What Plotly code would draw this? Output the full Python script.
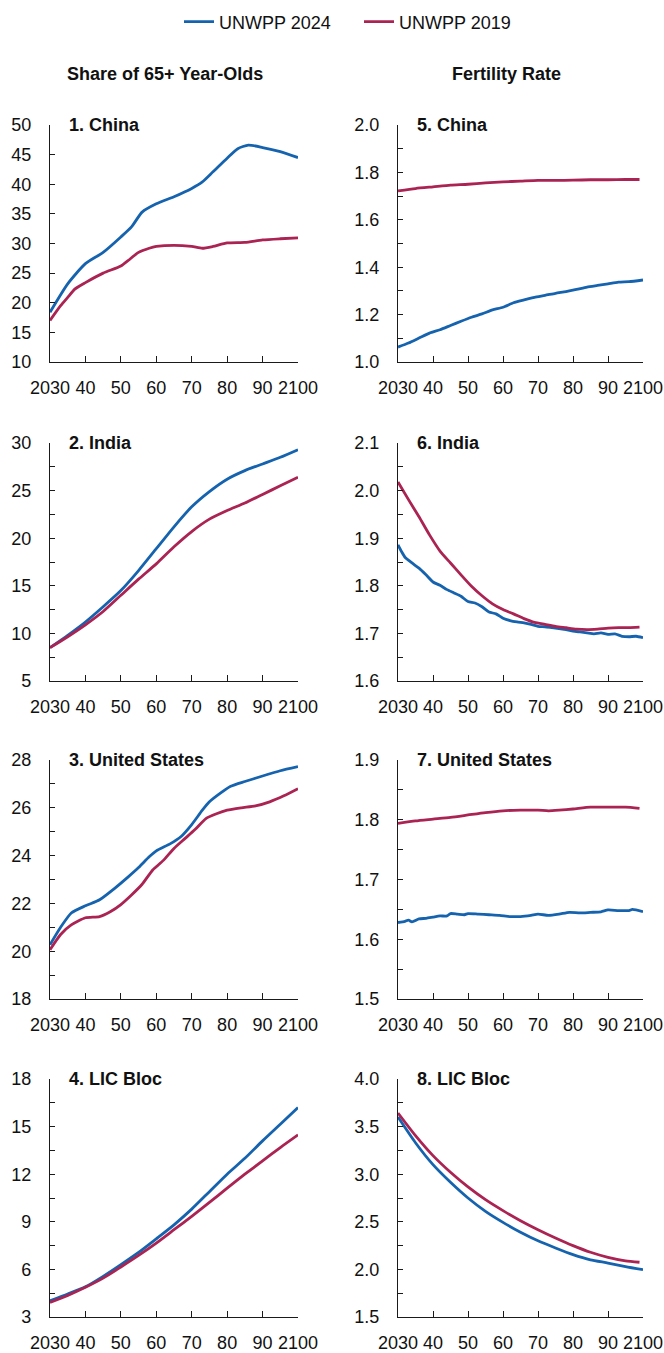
import plotly.graph_objects as go

# ---------------- data ----------------
# Share of population aged 65+ (percent)
china_share_years_24 = [2030, 2035, 2040, 2045, 2050, 2053, 2056, 2060, 2065, 2070, 2073, 2076, 2080, 2083, 2086, 2090, 2095, 2100]
china_share_24 = [18.4, 23.2, 26.6, 28.5, 31.1, 32.8, 35.3, 36.7, 37.9, 39.3, 40.4, 42.1, 44.4, 46.0, 46.6, 46.2, 45.5, 44.5]
china_share_years_19 = [2030, 2033, 2035, 2037, 2040, 2045, 2050, 2052, 2055, 2058, 2060, 2065, 2070, 2073, 2076, 2080, 2085, 2090, 2095, 2100]
china_share_19 = [17.0, 19.5, 20.9, 22.3, 23.4, 25.0, 26.2, 27.1, 28.5, 29.2, 29.5, 29.7, 29.5, 29.2, 29.5, 30.1, 30.2, 30.6, 30.8, 30.96]

india_share_years = [2030, 2035, 2040, 2045, 2050, 2055, 2060, 2065, 2070, 2075, 2080, 2085, 2090, 2095, 2100]
india_share_24 = [8.5, 9.8, 11.2, 12.8, 14.5, 16.6, 18.9, 21.2, 23.3, 24.9, 26.2, 27.1, 27.8, 28.5, 29.3]
india_share_19 = [8.5, 9.65, 10.9, 12.3, 14.0, 15.7, 17.3, 19.1, 20.7, 22.0, 22.9, 23.7, 24.6, 25.5, 26.4]

us_share_years_24 = [2030, 2033, 2036, 2040, 2044, 2048, 2052, 2055, 2058, 2060, 2064, 2067, 2070, 2073, 2075, 2078, 2081, 2085, 2090, 2095, 2100]
us_share_24 = [20.27, 21.0, 21.6, 21.9, 22.15, 22.6, 23.1, 23.5, 23.95, 24.2, 24.5, 24.8, 25.3, 25.9, 26.25, 26.6, 26.9, 27.1, 27.33, 27.55, 27.72]
us_share_years_19 = [2030, 2033, 2036, 2040, 2044, 2047, 2050, 2053, 2056, 2059, 2062, 2065, 2068, 2071, 2074, 2077, 2080, 2084, 2088, 2092, 2096, 2100]
us_share_19 = [20.06, 20.7, 21.1, 21.4, 21.45, 21.65, 21.95, 22.35, 22.8, 23.4, 23.8, 24.3, 24.7, 25.1, 25.55, 25.75, 25.9, 26.0, 26.08, 26.25, 26.5, 26.8]

lic_share_years = [2030, 2035, 2040, 2045, 2050, 2055, 2060, 2065, 2070, 2075, 2080, 2085, 2090, 2095, 2100]
lic_share_24 = [4.03, 4.45, 4.9, 5.56, 6.3, 7.07, 7.93, 8.81, 9.8, 10.9, 12.0, 13.0, 14.1, 15.15, 16.2]
lic_share_19 = [3.92, 4.36, 4.87, 5.45, 6.15, 6.88, 7.66, 8.5, 9.34, 10.22, 11.12, 12.0, 12.84, 13.68, 14.48]

# Total fertility rate (births per woman)
china_tfr_years_24 = [2030, 2033, 2036, 2039, 2042, 2045, 2048, 2051, 2054, 2057, 2060, 2063, 2066, 2069, 2072, 2075, 2078, 2081, 2084, 2087, 2090, 2093, 2096, 2100]
china_tfr_24 = [1.063, 1.080, 1.101, 1.122, 1.136, 1.154, 1.172, 1.189, 1.203, 1.220, 1.231, 1.250, 1.262, 1.273, 1.281, 1.290, 1.297, 1.306, 1.316, 1.323, 1.330, 1.337, 1.339, 1.346]
china_tfr_years_19 = [2030, 2035, 2040, 2045, 2050, 2055, 2060, 2065, 2070, 2075, 2080, 2085, 2090, 2095, 2099]
china_tfr_19 = [1.722, 1.732, 1.739, 1.746, 1.750, 1.756, 1.760, 1.763, 1.766, 1.766, 1.767, 1.769, 1.769, 1.770, 1.770]

india_tfr_years_24 = [2030, 2031, 2032, 2034, 2036, 2038, 2040, 2042, 2044, 2046, 2048, 2050, 2052, 2054, 2056, 2058, 2060, 2062, 2064, 2066, 2068, 2070, 2072, 2074, 2076, 2078, 2080, 2082, 2084, 2086, 2088, 2090, 2092, 2094, 2096, 2098, 2100]
india_tfr_24 = [1.886, 1.872, 1.860, 1.848, 1.837, 1.823, 1.808, 1.801, 1.792, 1.785, 1.778, 1.767, 1.764, 1.756, 1.745, 1.741, 1.732, 1.727, 1.724, 1.722, 1.719, 1.715, 1.714, 1.712, 1.710, 1.708, 1.705, 1.703, 1.701, 1.699, 1.701, 1.698, 1.699, 1.694, 1.693, 1.694, 1.691]
india_tfr_years_19 = [2030, 2033, 2036, 2039, 2042, 2045, 2048, 2051, 2054, 2057, 2060, 2063, 2066, 2069, 2072, 2075, 2078, 2081, 2084, 2087, 2090, 2093, 2096, 2099]
india_tfr_19 = [2.018, 1.981, 1.945, 1.907, 1.873, 1.848, 1.823, 1.799, 1.779, 1.762, 1.750, 1.741, 1.731, 1.723, 1.719, 1.715, 1.712, 1.709, 1.708, 1.709, 1.711, 1.712, 1.712, 1.713]

us_tfr_years_24 = [2030, 2032, 2033, 2034, 2036, 2038, 2040, 2042, 2044, 2045, 2047, 2049, 2050, 2053, 2056, 2059, 2062, 2065, 2068, 2070, 2073, 2076, 2079, 2082, 2085, 2088, 2090, 2093, 2096, 2097, 2100]
us_tfr_24 = [1.628, 1.630, 1.632, 1.629, 1.634, 1.635, 1.637, 1.639, 1.639, 1.643, 1.642, 1.641, 1.643, 1.642, 1.641, 1.640, 1.638, 1.638, 1.640, 1.642, 1.640, 1.642, 1.645, 1.644, 1.645, 1.646, 1.649, 1.648, 1.648, 1.650, 1.646]
us_tfr_years_19 = [2030, 2035, 2040, 2045, 2050, 2055, 2060, 2065, 2070, 2073, 2076, 2080, 2085, 2090, 2095, 2099]
us_tfr_19 = [1.794, 1.798, 1.801, 1.804, 1.808, 1.812, 1.815, 1.816, 1.816, 1.815, 1.816, 1.818, 1.821, 1.821, 1.821, 1.819]

lic_tfr_years_24 = [2030, 2035, 2040, 2045, 2050, 2055, 2060, 2065, 2070, 2075, 2080, 2085, 2090, 2095, 2100]
lic_tfr_24 = [3.60, 3.33, 3.10, 2.915, 2.75, 2.61, 2.494, 2.39, 2.30, 2.225, 2.155, 2.10, 2.067, 2.03, 1.997]
lic_tfr_years_19 = [2030, 2035, 2040, 2045, 2050, 2055, 2060, 2065, 2070, 2075, 2080, 2085, 2090, 2095, 2099]
lic_tfr_19 = [3.643, 3.405, 3.195, 3.02, 2.866, 2.732, 2.617, 2.512, 2.417, 2.33, 2.25, 2.18, 2.127, 2.09, 2.075]

x_tick_vals = [2030, 2040, 2050, 2060, 2070, 2080, 2090, 2100]
x_tick_text = ["2030", "40", "50", "60", "70", "80", "90", "2100"]

series_names = ["UNWPP 2024", "UNWPP 2019"]
column_titles = ["Share of 65+ Year-Olds", "Fertility Rate"]

# panel title, (x24, y24), (x19, y19), y-range, major dtick, minor dtick
panels = [
    ("1. China", (china_share_years_24, china_share_24), (china_share_years_19, china_share_19), (10, 50), 5, 5),
    ("2. India", (india_share_years, india_share_24), (india_share_years, india_share_19), (5, 30), 5, 2.5),
    ("3. United States", (us_share_years_24, us_share_24), (us_share_years_19, us_share_19), (18, 28), 2, 1),
    ("4. LIC Bloc", (lic_share_years, lic_share_24), (lic_share_years, lic_share_19), (3, 18), 3, 1.5),
    ("5. China", (china_tfr_years_24, china_tfr_24), (china_tfr_years_19, china_tfr_19), (1.0, 2.0), 0.2, 0.1),
    ("6. India", (india_tfr_years_24, india_tfr_24), (india_tfr_years_19, india_tfr_19), (1.6, 2.1), 0.1, 0.05),
    ("7. United States", (us_tfr_years_24, us_tfr_24), (us_tfr_years_19, us_tfr_19), (1.5, 1.9), 0.1, 0.05),
    ("8. LIC Bloc", (lic_tfr_years_24, lic_tfr_24), (lic_tfr_years_19, lic_tfr_19), (1.5, 4.0), 0.5, 0.25),
]

# ---------------- layout geometry ----------------
W, H = 664, 1353
col_px = [(50, 298), (398, 643)]
row_px = [(125, 362), (443, 681), (760, 999), (1079, 1317)]

BLUE = "#1563AE"
RED = "#AA2352"
FONT = "Liberation Sans, Arial, sans-serif"
AXIS_COLOR = "#1a1a1a"
TEXT_COLOR = "#111111"
FS = 18

fig = go.Figure()
annotations = []

for i, (title, s24, s19, yr, dmaj, dmin) in enumerate(panels):
    col = i // 4
    row = i % 4
    n = i + 1
    xa = "x" if n == 1 else f"x{n}"
    ya = "y" if n == 1 else f"y{n}"
    for (xs, ys), name, color in ((s24, series_names[0], BLUE), (s19, series_names[1], RED)):
        fig.add_trace(go.Scatter(
            x=xs, y=ys, mode="lines", name=name,
            line=dict(color=color, width=2.8, shape="spline", smoothing=0.6),
            xaxis=xa, yaxis=ya, showlegend=(n == 1), legendgroup=name,
        ))
    x0, x1 = col_px[col]
    y0, y1 = row_px[row]
    xdom = [x0 / W, x1 / W]
    ydom = [1 - y1 / H, 1 - y0 / H]
    xkey = "xaxis" if n == 1 else f"xaxis{n}"
    ykey = "yaxis" if n == 1 else f"yaxis{n}"
    fig.update_layout(**{
        xkey: dict(
            domain=xdom, anchor=ya, range=[2030, 2100], automargin=False,
            showline=True, linecolor=AXIS_COLOR, linewidth=1.3,
            ticks="inside", ticklen=6, tickwidth=1.2, tickcolor=AXIS_COLOR,
            tickvals=x_tick_vals, ticktext=x_tick_text,
            showgrid=False, zeroline=False, fixedrange=True,
            tickfont=dict(family=FONT, size=FS, color=TEXT_COLOR),
            ticklabelstandoff=9,
        ),
        ykey: dict(
            domain=ydom, anchor=xa, range=list(yr), automargin=False,
            showline=True, linecolor=AXIS_COLOR, linewidth=1.3,
            ticks="inside", ticklen=5, tickwidth=1.2, tickcolor=AXIS_COLOR,
            tick0=yr[0], dtick=dmaj, tickformat=(".1f" if col == 1 else "d"),
            minor=dict(ticks="inside", ticklen=5, tickwidth=1.2, tickcolor=AXIS_COLOR, tick0=yr[0], dtick=dmin),
            showgrid=False, zeroline=False, fixedrange=True,
            tickfont=dict(family=FONT, size=FS, color=TEXT_COLOR),
            ticklabelstandoff=14,
        ),
    })
    annotations.append(dict(
        text=f"<b>{title}</b>", xref="paper", yref="paper",
        x=(x0 + 17) / W, y=1 - y0 / H, xanchor="left", yanchor="middle",
        showarrow=False, font=dict(family=FONT, size=FS, color=TEXT_COLOR),
    ))

# column headers
for col, text in enumerate(column_titles):
    cx = [165, 507][col]
    annotations.append(dict(
        text=f"<b>{text}</b>", xref="paper", yref="paper",
        x=cx / W, y=1 - 74 / H, xanchor="center", yanchor="middle",
        showarrow=False, font=dict(family=FONT, size=FS, color=TEXT_COLOR),
    ))

fig.update_layout(
    width=W, height=H,
    margin=dict(l=0, r=0, t=0, b=0, autoexpand=False),
    paper_bgcolor="white", plot_bgcolor="white",
    font=dict(family=FONT, size=FS, color=TEXT_COLOR),
    annotations=annotations,
    showlegend=True,
    legend=dict(
        orientation="h", x=(332 + 27) / W, xanchor="center", y=1 - 22 / H, yanchor="middle",
        font=dict(family=FONT, size=FS, color=TEXT_COLOR),
        entrywidth=135, entrywidthmode="pixels",
        itemwidth=30, tracegroupgap=0, bgcolor="rgba(0,0,0,0)",
    ),
)

fig.write_html("out.html")
